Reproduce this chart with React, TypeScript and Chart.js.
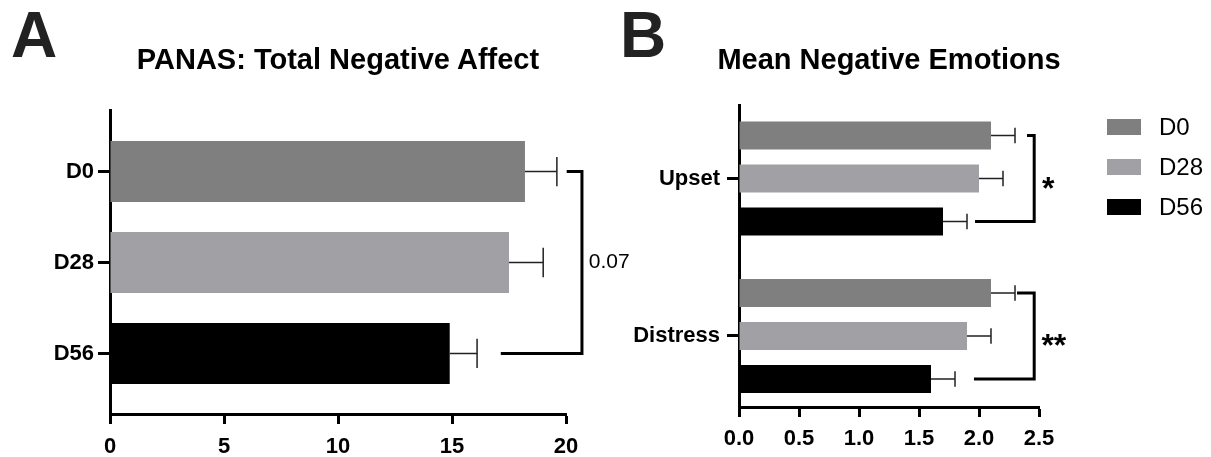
import React, { useEffect, useRef } from 'react';
import { Chart, registerables } from 'chart.js';

Chart.register(...registerables);

const FONT = "'Liberation Sans', Arial, Helvetica, sans-serif";

// ---- Panel A data ----
const panasCategories = ['D0', 'D28', 'D56'];
const panasMeans = [18.2, 17.5, 14.9];
const panasErrors = [1.4, 1.5, 1.2];
const panasTicks = [0, 5, 10, 15, 20];
const panasColors = ['#7f7f7f', '#a1a1a5', '#000000'];
const panasPValue = '0.07';

// ---- Panel B data ----
const emotionCategories = ['Upset', 'Distress'];
const seriesNames = ['D0', 'D28', 'D56'];
const seriesColors = ['#7f7f7f', '#a1a1a5', '#000000'];
const d0Means = [2.1, 2.1];
const d0Errors = [0.2, 0.2];
const d28Means = [2.0, 1.9];
const d28Errors = [0.2, 0.2];
const d56Means = [1.7, 1.6];
const d56Errors = [0.2, 0.2];
const emotionTicks = [0, 0.5, 1, 1.5, 2, 2.5];
const emotionStars = ['*', '**'];

function errorBarPlugin(capRatio: number) {
  return {
    id: 'errorBars',
    afterDatasetsDraw(chart: any) {
      const ctx = chart.ctx;
      const xs = chart.scales.x;
      ctx.save();
      ctx.strokeStyle = '#222';
      ctx.lineWidth = 1.5;
      chart.data.datasets.forEach((ds: any, di: number) => {
        const meta = chart.getDatasetMeta(di);
        meta.data.forEach((el: any, i: number) => {
          const v = ds.data[i].x;
          const e = ds.errors[i];
          const x0 = xs.getPixelForValue(v);
          const x1 = xs.getPixelForValue(v + e);
          const y = el.y;
          const h = (el.height * capRatio) / 2;
          ctx.beginPath();
          ctx.moveTo(x0, y);
          ctx.lineTo(x1, y);
          ctx.moveTo(x1, y - h);
          ctx.lineTo(x1, y + h);
          ctx.stroke();
        });
      });
      ctx.restore();
    },
  };
}

type Bracket = {
  top: [number, number];
  bottom: [number, number];
  xTop: number;
  xVert: number;
  xBottom: number;
  label: string;
  labelX: number;
  labelFont: string;
  labelDy: number;
  labelBaseline: string;
};

function bracketPlugin(brackets: Bracket[]) {
  return {
    id: 'brackets',
    afterDatasetsDraw(chart: any) {
      const ctx = chart.ctx;
      const xs = chart.scales.x;
      ctx.save();
      ctx.strokeStyle = '#000';
      ctx.fillStyle = '#000';
      ctx.lineWidth = 3;
      ctx.lineJoin = 'miter';
      brackets.forEach((b) => {
        const yTop = chart.getDatasetMeta(b.top[0]).data[b.top[1]].y;
        const yBot = chart.getDatasetMeta(b.bottom[0]).data[b.bottom[1]].y;
        const xv = xs.getPixelForValue(b.xVert);
        ctx.beginPath();
        ctx.moveTo(xs.getPixelForValue(b.xTop), yTop);
        ctx.lineTo(xv, yTop);
        ctx.lineTo(xv, yBot);
        ctx.lineTo(xs.getPixelForValue(b.xBottom), yBot);
        ctx.stroke();
        ctx.font = b.labelFont;
        ctx.textAlign = 'left';
        ctx.textBaseline = b.labelBaseline;
        ctx.fillText(b.label, xs.getPixelForValue(b.labelX), (yTop + yBot) / 2 + b.labelDy);
      });
      ctx.restore();
    },
  };
}

function legendPlugin() {
  return {
    id: 'customLegend',
    afterDraw(chart: any) {
      const ctx = chart.ctx;
      ctx.save();
      chart.data.datasets.forEach((ds: any, i: number) => {
        const cy = 127 + i * 40;
        ctx.fillStyle = ds.backgroundColor;
        ctx.fillRect(507, cy - 8, 34, 16);
        ctx.fillStyle = '#000';
        ctx.font = `24px ${FONT}`;
        ctx.textAlign = 'left';
        ctx.textBaseline = 'middle';
        ctx.fillText(ds.label, 559, cy + 1);
      });
      ctx.restore();
    },
  };
}

const axisCommon = {
  grid: {
    drawOnChartArea: false,
    drawTicks: true,
    tickWidth: 3,
    tickColor: '#000',
    offset: false,
  },
  border: { display: true, width: 3, color: '#000' },
};

export default function App() {
  const refA = useRef<HTMLCanvasElement>(null);
  const refB = useRef<HTMLCanvasElement>(null);

  useEffect(() => {
    Chart.defaults.font.family = FONT;
    const chartA = new Chart(refA.current as HTMLCanvasElement, {
      type: 'bar',
      data: {
        datasets: [
          {
            label: 'PANAS',
            data: panasMeans.map((v, i) => ({ x: v, y: i })),
            errors: panasErrors,
            backgroundColor: panasColors,
            borderWidth: 0,
            categoryPercentage: 1,
            barPercentage: 0.67,
          } as any,
        ],
      },
      options: {
        indexAxis: 'y',
        animation: false,
        responsive: false,
        layout: { padding: { left: 0, right: 74, top: 110, bottom: 0 } },
        plugins: { legend: { display: false }, tooltip: { enabled: false } },
        scales: {
          x: {
            type: 'linear',
            min: 0,
            max: 20,
            offset: false,
            afterBuildTicks: (s: any) => {
              s.ticks = panasTicks.map((v) => ({ value: v }));
            },
            afterFit: (s: any) => {
              s.height = 43;
            },
            ...axisCommon,
            grid: { ...axisCommon.grid, tickLength: 10 },
            ticks: { color: '#000', font: { size: 22, weight: 'bold' }, padding: 10, maxRotation: 0 },
          },
          y: {
            type: 'linear',
            reverse: true,
            offset: false,
            min: -0.676,
            max: 2.665,
            afterBuildTicks: (s: any) => {
              s.ticks = panasCategories.map((_, i) => ({ value: i }));
            },
            afterFit: (s: any) => {
              s.width = 110;
            },
            ...axisCommon,
            grid: { ...axisCommon.grid, tickLength: 12 },
            ticks: {
              color: '#000',
              font: { size: 22, weight: 'bold' },
              padding: 4,
              callback: (v: any) => panasCategories[v] ?? '',
            },
          },
        },
      } as any,
      plugins: [
        errorBarPlugin(0.48),
        bracketPlugin([
          {
            top: [0, 0],
            bottom: [0, 2],
            xTop: 20.03,
            xVert: 20.7,
            xBottom: 17.14,
            label: panasPValue,
            labelX: 21.0,
            labelFont: `21px ${FONT}`,
            labelDy: 0,
            labelBaseline: 'middle',
          },
        ]),
      ],
    });

    const meansList = [d0Means, d28Means, d56Means];
    const errList = [d0Errors, d28Errors, d56Errors];
    const chartB = new Chart(refB.current as HTMLCanvasElement, {
      type: 'bar',
      data: {
        datasets: seriesNames.map((name, si) => ({
          label: name,
          data: meansList[si].map((v, i) => ({ x: v, y: i })),
          errors: errList[si],
          backgroundColor: seriesColors[si],
          borderWidth: 0,
          categoryPercentage: 0.819,
          barPercentage: 0.651,
        })) as any,
      },
      options: {
        indexAxis: 'y',
        animation: false,
        responsive: false,
        layout: { padding: { left: 0, right: 172, top: 105, bottom: 0 } },
        plugins: { legend: { display: false }, tooltip: { enabled: false } },
        scales: {
          x: {
            type: 'linear',
            min: 0,
            max: 2.5,
            offset: false,
            afterBuildTicks: (s: any) => {
              s.ticks = emotionTicks.map((v) => ({ value: v }));
            },
            afterFit: (s: any) => {
              s.height = 50;
            },
            ...axisCommon,
            grid: { ...axisCommon.grid, tickLength: 10 },
            ticks: {
              color: '#000',
              font: { size: 22, weight: 'bold' },
              padding: 9,
              maxRotation: 0,
              callback: (v: any) => Number(v).toFixed(1),
            },
          },
          y: {
            type: 'linear',
            reverse: true,
            offset: false,
            min: -0.467,
            max: 1.451,
            afterBuildTicks: (s: any) => {
              s.ticks = emotionCategories.map((_, i) => ({ value: i }));
            },
            afterFit: (s: any) => {
              s.width = 139;
            },
            ...axisCommon,
            grid: { ...axisCommon.grid, tickLength: 12 },
            ticks: {
              color: '#000',
              font: { size: 22, weight: 'bold' },
              padding: 7,
              callback: (v: any) => emotionCategories[v] ?? '',
            },
          },
        },
      } as any,
      plugins: [
        errorBarPlugin(0.55),
        bracketPlugin([
          {
            top: [0, 0],
            bottom: [2, 0],
            xTop: 2.4,
            xVert: 2.46,
            xBottom: 1.967,
            label: emotionStars[0],
            labelX: 2.525,
            labelFont: `bold 32px ${FONT}`,
            labelDy: 20,
            labelBaseline: 'alphabetic',
          },
          {
            top: [0, 1],
            bottom: [2, 1],
            xTop: 2.317,
            xVert: 2.46,
            xBottom: 1.958,
            label: emotionStars[1],
            labelX: 2.52,
            labelFont: `bold 32px ${FONT}`,
            labelDy: 20,
            labelBaseline: 'alphabetic',
          },
        ]),
        legendPlugin(),
      ],
    });

    return () => {
      chartA.destroy();
      chartB.destroy();
    };
  }, []);

  const titleStyle: React.CSSProperties = {
    position: 'absolute',
    width: 600,
    textAlign: 'center',
    fontFamily: FONT,
    fontWeight: 'bold',
    fontSize: 29,
    lineHeight: '29px',
    top: 45,
    color: '#000',
    whiteSpace: 'nowrap',
  };
  const letterStyle: React.CSSProperties = {
    position: 'absolute',
    fontFamily: FONT,
    fontWeight: 'bold',
    fontSize: 64,
    lineHeight: '64px',
    top: 3,
    color: '#222',
  };

  return (
    <div
      style={{
        position: 'fixed',
        left: 0,
        top: 0,
        width: 1211,
        height: 457,
        background: '#fff',
        overflow: 'hidden',
      }}
    >
      <canvas ref={refA} width={640} height={457} style={{ position: 'absolute', left: 0, top: 0 }} />
      <canvas ref={refB} width={611} height={457} style={{ position: 'absolute', left: 600, top: 0 }} />
      <div style={{ ...letterStyle, left: 11 }}>A</div>
      <div style={{ ...letterStyle, left: 620 }}>B</div>
      <div style={{ ...titleStyle, left: 338 - 300 }}>PANAS: Total Negative Affect</div>
      <div style={{ ...titleStyle, left: 889 - 300 }}>Mean Negative Emotions</div>
    </div>
  );
}
